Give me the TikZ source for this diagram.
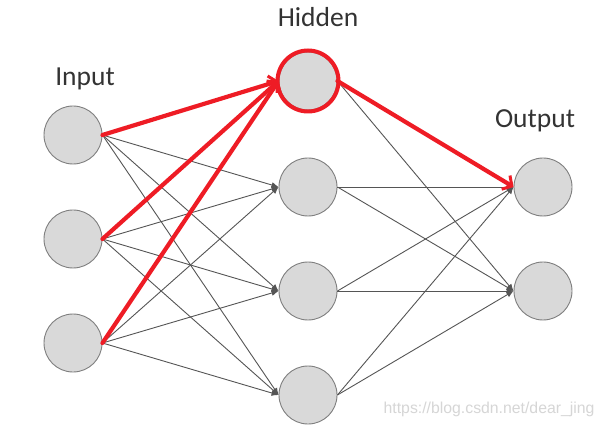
\documentclass[tikz,border=0pt]{standalone}
\usepackage{fontspec}
\setmainfont{Carlito}
\newfontfamily\wmfont{Liberation Sans}
\usetikzlibrary{arrows.meta}
\definecolor{nodefill}{HTML}{D9D9D9}
\definecolor{nodeborder}{HTML}{7F7F7F}
\definecolor{linkcol}{HTML}{555555}
\definecolor{hlred}{HTML}{EE1C25}
\definecolor{wmgray}{HTML}{D6D6D6}
\begin{document}
\begin{tikzpicture}[x=1pt,y=-1pt,
  neuron/.style={circle,draw=nodeborder,fill=nodefill,line width=0.9pt,minimum size=58pt,inner sep=0pt},
  link/.style={draw=linkcol,line width=0.9pt,-{Latex[length=7pt,width=6pt]}},
  redlink/.style={draw=hlred,line width=4.2pt,line cap=round,-{Straight Barb[length=7pt,width=16pt,line width=3pt]}},
  lbl/.style={font=\fontsize{27.5}{31}\selectfont,text=black!80}]
\useasboundingbox (0,0) rectangle (607,427);
\fill[white] (0,0) rectangle (607,427);
% nodes
\node[neuron] (i1) at (73,135) {};
\node[neuron] (i2) at (73,239) {};
\node[neuron] (i3) at (73,343) {};
\node[neuron] (h1) at (308,81) {};
\node[neuron] (h2) at (308,187) {};
\node[neuron] (h3) at (308,291) {};
\node[neuron] (h4) at (308,395) {};
\node[neuron] (o1) at (543,187) {};
\node[neuron] (o2) at (543,291) {};
% labels
\node[lbl] (tin) at (85,79) {Input};
\node[lbl] (thid) at (318,17) {Hidden};
\node[lbl] (tout) at (535,121) {Output};
% input -> hidden
\foreach \i in {1,2,3}{
  \foreach \h in {2,3,4}{
    \draw[link] (i\i.east) -- (h\h.west);
  }
}
% hidden -> output
\foreach \h in {2,3,4}{
  \foreach \o in {1,2}{
    \draw[link] (h\h.east) -- (o\o.west);
  }
}
\draw[link] (h1.east) -- (o2.west);
% highlighted
\draw[hlred,line width=4pt] (h1) circle (30.5pt);
\draw[redlink] (i1.east) -- (h1.west);
\draw[redlink] (i2.east) -- (h1.west);
\draw[redlink] (i3.east) -- (h1.west);
\draw[redlink] (h1.east) -- (o1.west);
% watermark
\node[font=\wmfont\fontsize{15.8}{18}\selectfont,text=wmgray,anchor=east] (wm) at (598,409) {https://blog.csdn.net/dear\_jing};
\end{tikzpicture}
\end{document}
